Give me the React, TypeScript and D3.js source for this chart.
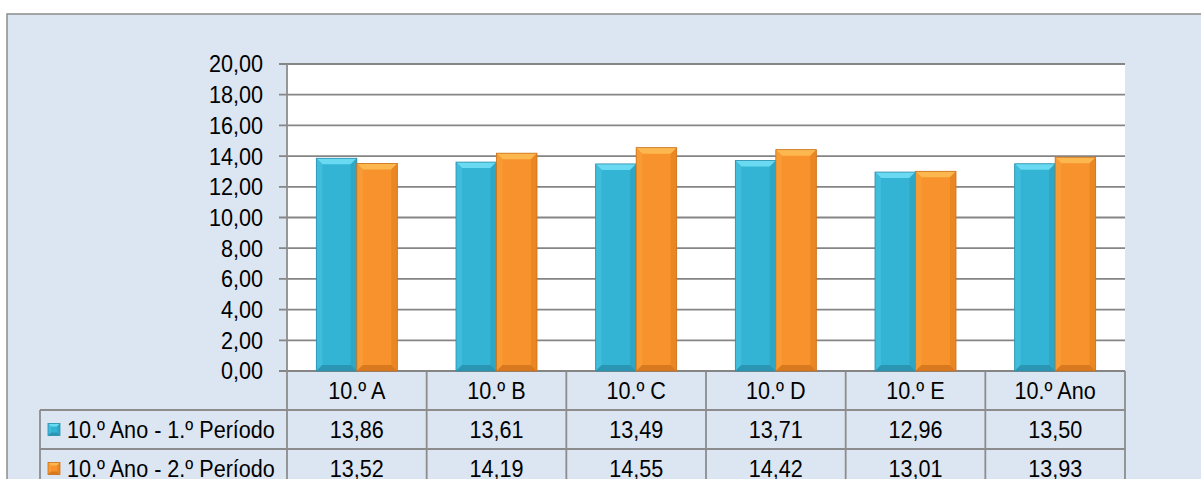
import { scaleBand, scaleLinear } from "d3";

const categories = ["10.º A", "10.º B", "10.º C", "10.º D", "10.º E", "10.º Ano"];
const seriesNames = ["10.º Ano - 1.º Período", "10.º Ano - 2.º Período"];
const period1 = [13.86, 13.61, 13.49, 13.71, 12.96, 13.5];
const period2 = [13.52, 14.19, 14.55, 14.42, 13.01, 13.93];
const yTicks = [0, 2, 4, 6, 8, 10, 12, 14, 16, 18, 20];

const palettes = [
  { body: "#33b4d4", top: "#6ad9f2", left: "#40bddb", right: "#2ea6c4", bottom: "#2b96b3", edge: "#2a8eab" },
  { body: "#f7922c", top: "#fcb84e", left: "#f89b35", right: "#ea8723", bottom: "#d9791f", edge: "#c9721f" },
];

const fmt = (v: number) => v.toFixed(2).replace(".", ",");
const FONT = "'Liberation Sans', Arial, sans-serif";

function Label({ x, y, anchor, children }: { x: number; y: number; anchor: "start" | "middle" | "end"; children: string }) {
  return (
    <text
      transform={`translate(${x},${y}) scale(0.9,1)`}
      textAnchor={anchor}
      dominantBaseline="central"
      fontFamily={FONT}
      fontSize={24}
      fill="#000"
    >
      {children}
    </text>
  );
}

function BevelBar({ x, y, w, h, b, pal }: { x: number; y: number; w: number; h: number; b: number; pal: (typeof palettes)[0] }) {
  const x1 = x + w;
  const y1 = y + h;
  return (
    <g>
      <rect x={x} y={y} width={w} height={h} fill={pal.body} />
      <path d={`M${x},${y} L${x1},${y} L${x1 - b},${y + b} L${x + b},${y + b} Z`} fill={pal.top} />
      <path d={`M${x},${y} L${x + b},${y + b} L${x + b},${y1 - b} L${x},${y1} Z`} fill={pal.left} />
      <path d={`M${x1},${y} L${x1 - b},${y + b} L${x1 - b},${y1 - b} L${x1},${y1} Z`} fill={pal.right} />
      <path d={`M${x},${y1} L${x + b},${y1 - b} L${x1 - b},${y1 - b} L${x1},${y1} Z`} fill={pal.bottom} />
      <rect x={x} y={y} width={w} height={h} fill="none" stroke={pal.edge} strokeWidth={0.8} />
    </g>
  );
}

export default function App() {
  const width = 1201;
  const height = 479;
  const plotLeft = 287;
  const plotRight = 1125;
  const plotTop = 64;
  const plotBottom = 371;
  const rowH = 39;
  const legendLeft = 40;

  const y = scaleLinear().domain([0, 20]).range([plotBottom, plotTop]);
  const x = scaleBand<string>().domain(categories).range([plotLeft, plotRight]).paddingInner(0.42).paddingOuter(0.21);
  const inner = scaleBand<number>().domain([0, 1]).range([0, x.bandwidth()]);
  const step = x.step();
  const series = [period1, period2];

  const rowTops = [plotBottom + rowH, plotBottom + rowH * 2];
  const tableBottom = plotBottom + rowH * 3;

  return (
    <svg
      width={width}
      height={height}
      viewBox={`0 0 ${width} ${height}`}
      style={{ position: "absolute", left: 0, top: 0, background: "#fff" }}
    >
      <rect x={7} y={14} width={width + 10} height={height} fill="#dce6f2" stroke="#8c8c8c" strokeWidth={1.5} />
      <rect x={plotLeft} y={plotTop} width={plotRight - plotLeft} height={plotBottom - plotTop} fill="#fff" />

      {yTicks.map((t) => (
        <g key={t}>
          <line x1={plotLeft - 8} x2={plotRight} y1={y(t)} y2={y(t)} stroke="#858585" strokeWidth={1.8} />
          <Label x={263} y={y(t)} anchor="end">
            {fmt(t)}
          </Label>
        </g>
      ))}

      {categories.map((c, i) =>
        series.map((s, k) => (
          <BevelBar
            key={`${c}-${k}`}
            x={(x(c) ?? 0) + (inner(k) ?? 0)}
            y={y(s[i])}
            w={inner.bandwidth()}
            h={plotBottom - y(s[i])}
            b={6}
            pal={palettes[k]}
          />
        ))
      )}

      {/* data table */}
      <g stroke="#8c8c8c" strokeWidth={1.8} fill="none">
        <line x1={plotLeft} x2={plotLeft} y1={plotTop} y2={tableBottom} />
        {categories.map((c, i) => (
          <line key={c} x1={plotLeft + step * (i + 1)} x2={plotLeft + step * (i + 1)} y1={plotBottom} y2={tableBottom} />
        ))}
        <line x1={legendLeft} x2={plotRight} y1={rowTops[0]} y2={rowTops[0]} />
        <line x1={legendLeft} x2={plotRight} y1={rowTops[1]} y2={rowTops[1]} />
        <line x1={legendLeft} x2={plotRight} y1={tableBottom} y2={tableBottom} />
        <line x1={legendLeft} x2={legendLeft} y1={rowTops[0]} y2={tableBottom} />
      </g>

      {categories.map((c) => (
        <Label key={c} x={(x(c) ?? 0) + x.bandwidth() / 2} y={plotBottom + rowH / 2} anchor="middle">
          {c}
        </Label>
      ))}

      {series.map((s, k) => (
        <g key={k}>
          <BevelBar x={48} y={rowTops[k] + rowH / 2 - 6} w={12} h={12} b={3} pal={palettes[k]} />
          <Label x={67} y={rowTops[k] + rowH / 2} anchor="start">
            {seriesNames[k]}
          </Label>
          {categories.map((c, i) => (
            <Label key={c} x={(x(c) ?? 0) + x.bandwidth() / 2} y={rowTops[k] + rowH / 2} anchor="middle">
              {fmt(s[i])}
            </Label>
          ))}
        </g>
      ))}
    </svg>
  );
}
